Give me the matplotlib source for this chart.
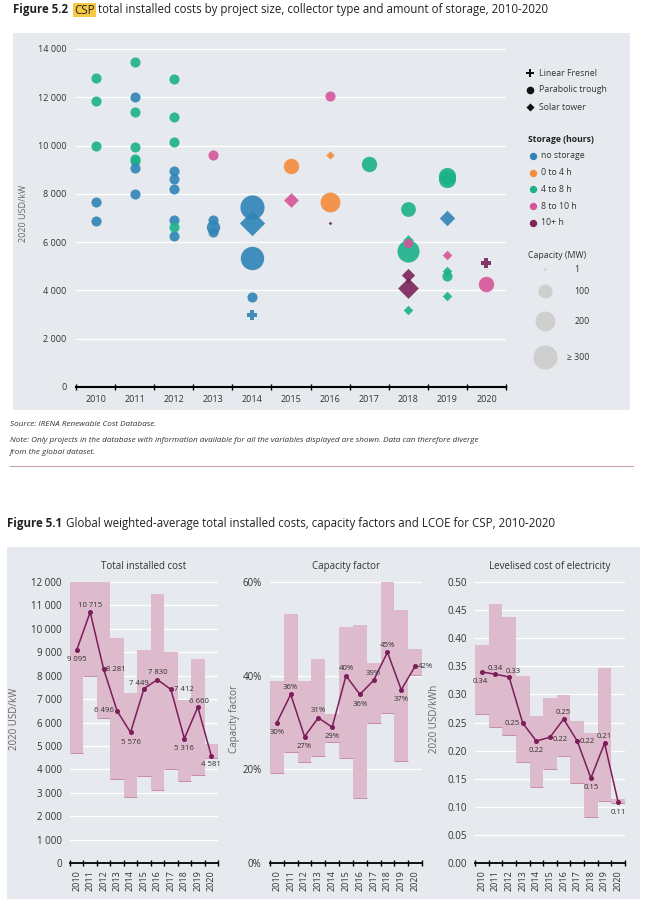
import matplotlib.pyplot as plt
from matplotlib.patches import Rectangle
import numpy as np

plt.rcParams['font.family'] = ['Open Sans', 'DejaVu Sans']

W, H = 646, 899

# ---- Figure 5.2 : project scatter (year, cost, collector, storage class, MW) ----
sc_year = [2010, 2010, 2010, 2010, 2010, 2010,
           2011, 2011, 2011, 2011, 2011, 2011, 2011, 2011,
           2012, 2012, 2012, 2012, 2012, 2012, 2012, 2012, 2012, 2012,
           2013, 2013, 2013, 2013, 2013,
           2014, 2014, 2014, 2014, 2014,
           2015, 2015,
           2016, 2016, 2016, 2016,
           2017,
           2018, 2018, 2018, 2018, 2018, 2018, 2018, 2018,
           2019, 2019, 2019, 2019, 2019, 2019, 2019, 2019,
           2020, 2020]
sc_cost = [12800, 11850, 10000, 7650, 6870, 3730,
           13450, 12000, 11400, 9950, 9450, 9350, 9050, 8000,
           12750, 11200, 10150, 8950, 8600, 8200, 6900, 6250, 6620, 6600,
           9600, 6900, 6620, 6400, 2700,
           7450, 6780, 5350, 3730, 3000,
           9150, 7750,
           12050, 9600, 7650, 6780,
           9250,
           7350, 6100, 5650, 5950, 4650, 4400, 4100, 3200,
           8750, 8600, 7700, 7000, 5480, 4800, 4580, 3750,
           5150, 4280]
sc_kind = ['P', 'P', 'P', 'P', 'P', 'F',
           'P', 'P', 'P', 'P', 'P', 'P', 'P', 'P',
           'P', 'P', 'P', 'P', 'P', 'P', 'P', 'P', 'P', 'F',
           'P', 'P', 'P', 'P', 'F',
           'P', 'T', 'P', 'P', 'F',
           'P', 'T',
           'P', 'T', 'P', 'T',
           'P',
           'P', 'T', 'P', 'P', 'T', 'P', 'T', 'T',
           'P', 'P', 'F', 'T', 'T', 'T', 'P', 'T',
           'F', 'P']
sc_store = [2, 2, 2, 0, 0, 1,
            2, 0, 2, 2, 2, 2, 0, 0,
            2, 2, 2, 0, 0, 0, 0, 0, 2, 1,
            3, 0, 0, 0, 1,
            0, 0, 0, 0, 0,
            1, 3,
            3, 1, 1, 4,
            2,
            2, 2, 2, 3, 4, 4, 4, 2,
            2, 2, 1, 0, 3, 2, 2, 2,
            4, 3]
sc_mw = [50, 50, 50, 50, 50, 1,
         50, 50, 50, 50, 50, 50, 50, 50,
         50, 50, 50, 50, 50, 50, 50, 50, 50, 1,
         50, 50, 90, 50, 1,
         300, 300, 280, 50, 50,
         120, 100,
         50, 30, 200, 3,
         120,
         110, 50, 250, 40, 80, 5, 200, 40,
         150, 150, 1, 110, 40, 40, 50, 40,
         50, 120]

store_names = ['no storage', '0 to 4 h', '4 to 8 h', '8 to 10 h', '10+ h']
store_cols = ['#2f84b7', '#f58b3b', '#1bb189', '#d6559b', '#7a2459']
kind_names = ['Linear Fresnel', 'Parabolic trough', 'Solar tower']
legend_mw = [1, 100, 200, 300]
legend_mw_txt = ['1', '100', '200', '\u2265 300']

# ---- Figure 5.1 : weighted averages and ranges ----
years = list(range(2010, 2021))
tic_mean = [9095, 10715, 8281, 6496, 5576, 7449, 7830, 7412, 5316, 6660, 4581]
tic_lo = [4700, 8000, 6200, 3600, 2800, 3700, 3100, 4000, 3500, 3750, 4500]
tic_hi = [12000, 12000, 12000, 9600, 7250, 9100, 11500, 9000, 6950, 8700, 5100]

cf_mean = [30, 36, 27, 31, 29, 40, 36, 39, 45, 37, 42]
cf_lo = [19.2, 23.7, 21.6, 22.9, 25.9, 22.4, 13.9, 29.9, 32.1, 21.8, 40.2]
cf_hi = [38.9, 53.2, 38.9, 43.6, 31.8, 50.4, 50.8, 42.7, 60.0, 54.0, 45.7]

lc_mean = [0.340, 0.336, 0.331, 0.249, 0.217, 0.224, 0.256, 0.217, 0.151, 0.213, 0.108]
lc_lo = [0.265, 0.242, 0.228, 0.180, 0.135, 0.167, 0.190, 0.142, 0.082, 0.110, 0.106]
lc_hi = [0.388, 0.461, 0.438, 0.333, 0.262, 0.294, 0.299, 0.253, 0.231, 0.347, 0.114]

tic_lab = ['9 095', '10 715', '8 281', '6 496', '5 576', '7 449', '7 830', '7 412', '5 316', '6 660', '4 581']
cf_lab = ['30%', '36%', '27%', '31%', '29%', '40%', '36%', '39%', '45%', '37%', '42%']
lc_lab = ['0.34', '0.34', '0.33', '0.25', '0.22', '0.22', '0.25', '0.22', '0.15', '0.21', '0.11']

# label placement (dx, dy in points, ha)
tic_off = [(0, -7, 'center'), (0, 5, 'center'), (2, 0, 'left'), (-2, 0, 'right'), (0, -7, 'center'),
           (-4, 4, 'center'), (0, 5, 'center'), (2, 0, 'left'), (0, -7, 'center'), (1, 4, 'center'),
           (0, -6, 'center')]
cf_off = [(0, -7, 'center'), (0, 5, 'center'), (0, -7, 'center'), (0, 5, 'center'), (0, -7, 'center'),
          (0, 5, 'center'), (0, -7, 'center'), (0, 5, 'center'), (0, 5, 'center'), (0, -7, 'center'),
          (2, 0, 'left')]
lc_off = [(-1, -7, 'center'), (0, 4, 'center'), (3, 4, 'center'), (-2, 0, 'right'), (0, -7, 'center'),
          (2, -2, 'left'), (0, 5, 'center'), (2, 0, 'left'), (0, -7, 'center'), (0, 5, 'center'),
          (0, -7, 'center')]

PANEL = '#e6e9ed'
TXT = '#333333'
LINE = '#7b1e5a'
BAR = '#ddbacc'


def box(x0, y0, x1, y1):
    return [x0 / W, 1 - y1 / H, (x1 - x0) / W, (y1 - y0) / H]


fig = plt.figure(figsize=(W / 100, H / 100), dpi=100)

# background / overlay in pixel coordinates
bg = fig.add_axes([0, 0, 1, 1], zorder=-5)
bg.set_xlim(0, W)
bg.set_ylim(H, 0)
bg.axis('off')
bg.add_patch(Rectangle((13, 33), 617, 377, color=PANEL, lw=0))
bg.add_patch(Rectangle((7, 547), 633, 352, color=PANEL, lw=0))
bg.plot([10, 633], [466, 466], color='#c9a3ae', lw=0.8)

rend = fig.canvas.get_renderer()


def seq_text(x, y, pieces):
    for s, gap, kw in pieces:
        t = bg.text(x, y, s, va='center', ha='left', fontsize=8.3, color='#222222', **kw)
        x = bg.transData.inverted().transform(t.get_window_extent(rend).get_points())[1][0] + gap


seq_text(13, 10, [('Figure 5.2', 6, dict(fontweight='bold')),
                  ('CSP', 3, dict(bbox=dict(facecolor='#f6c945', edgecolor='none', pad=0.6))),
                  ('total installed costs by project size, collector type and amount of storage, 2010-2020', 0, {})])
seq_text(7, 523, [('Figure 5.1', 4, dict(fontweight='bold')),
                  ('Global weighted-average total installed costs, capacity factors and LCOE for CSP, 2010-2020', 0, {})])

bg.text(10, 424, 'Source: IRENA Renewable Cost Database.', fontsize=5.9, style='italic', color=TXT, va='center')
bg.text(10, 440, 'Note: Only projects in the database with information available for all the variables displayed '
        'are shown. Data can therefore diverge', fontsize=5.9, style='italic', color=TXT, va='center')
bg.text(10, 452, 'from the global dataset.', fontsize=5.9, style='italic', color=TXT, va='center')

# ---- scatter chart ----
ax = fig.add_axes(box(76, 39, 506, 387))
ax.set_facecolor('none')
mk = {'F': 'P', 'P': 'o', 'T': 'D'}
for i in range(len(sc_year)):
    s = 3 + sc_mw[i] * 1.0
    if sc_kind[i] == 'T':
        s *= 0.55
    ax.scatter(sc_year[i], sc_cost[i], s=s, marker=mk[sc_kind[i]], color=store_cols[sc_store[i]],
               alpha=0.9, linewidths=0, zorder=3 + i * 0.01)
ax.set_xlim(2009.5, 2020.5)
ax.set_ylim(0, 14410)
ax.set_yticks(range(0, 14001, 2000))
ax.set_yticklabels([f'{v:,}'.replace(',', ' ') for v in range(0, 14001, 2000)])
ax.set_xticks(years)
ax.set_xticks(np.arange(2009.5, 2021, 1), minor=True)
ax.tick_params(axis='x', which='major', length=0, pad=6, labelsize=6.5, labelcolor=TXT)
ax.tick_params(axis='x', which='minor', length=4, direction='inout', width=1, color='black')
ax.tick_params(axis='y', length=0, pad=7, labelsize=6.5, labelcolor=TXT)
ax.grid(axis='y', color='white', lw=1)
ax.set_axisbelow(True)
for sp in ['top', 'right', 'left']:
    ax.spines[sp].set_visible(False)
ax.spines['bottom'].set_linewidth(1.5)
ax.set_ylabel('2020 USD/kW', fontsize=6.5, color='#666666')
ax.yaxis.set_label_coords(-0.112, 0.5)

# legend drawn in pixel space
for y, m, s, name in zip([73, 90, 107], ['P', 'o', 'D'], [30, 30, 17], kind_names):
    bg.scatter(530, y, marker=m, s=s, color='#111111', linewidths=0)
    bg.text(539, y, name, fontsize=6.3, color=TXT, va='center')
bg.text(528, 140, 'Storage (hours)', fontsize=6.2, fontweight='bold', color='#222222', va='center')
for k, (name, c) in enumerate(zip(store_names, store_cols)):
    y = 156 + k * 16.7
    bg.scatter(533, y, s=28, color=c, linewidths=0)
    bg.text(541, y, name, fontsize=6.3, color=TXT, va='center')
bg.text(528, 256, 'Capacity (MW)', fontsize=6.3, color=TXT, va='center')
for y, mw, t, tx in zip([269, 291, 321, 357], legend_mw, legend_mw_txt, [577, 582, 582, 578]):
    bg.scatter(545, y, s=3 + mw, color='#cfcfcf', linewidths=0)
    bg.text(tx, y, t, fontsize=6.3, color=TXT, va='center', ha='center')


# ---- three small panels ----
def panel(rect, lo, hi, mean, labs, offs, top, ticks, tlabels, title, ylabel, ylab_x):
    a = fig.add_axes(rect)
    a.set_facecolor('none')
    lo = np.array(lo)
    hi = np.array(hi)
    a.bar(years, hi - lo, bottom=lo, width=1.0, color=BAR, linewidth=0, zorder=2)
    a.hlines(lo, np.array(years) - 0.5, np.array(years) + 0.5, color='#c88aa9', lw=0.7, zorder=2)
    a.plot(years, mean, color=LINE, lw=1.1, marker='o', ms=2.6, zorder=4)
    for x, y, t, (dx, dy, ha) in zip(years, mean, labs, offs):
        a.annotate(t, (x, y), xytext=(dx, dy), textcoords='offset points', ha=ha, va='center',
                   fontsize=5.6, color=TXT, zorder=5)
    a.set_xlim(2009.5, 2020.5)
    a.set_ylim(0, top)
    a.set_yticks(ticks)
    a.set_yticklabels(tlabels)
    a.set_xticks(years)
    a.set_xticklabels([str(y) for y in years], rotation=90)
    a.set_xticks(np.arange(2009.5, 2021, 1), minor=True)
    a.tick_params(axis='x', which='major', length=0, pad=5, labelsize=6.5, labelcolor=TXT)
    a.tick_params(axis='x', which='minor', length=4, direction='inout', width=1, color='black')
    a.tick_params(axis='y', length=0, pad=6, labelsize=7, labelcolor=TXT)
    a.grid(axis='y', color='white', lw=1)
    a.set_axisbelow(True)
    for sp in ['top', 'right', 'left']:
        a.spines[sp].set_visible(False)
    a.spines['bottom'].set_linewidth(1.3)
    a.set_title(title, fontsize=7, color=TXT, pad=4)
    a.set_ylabel(ylabel, fontsize=7, color='#666666')
    a.yaxis.set_label_coords(ylab_x, 0.5)
    return a


tk1 = list(range(0, 12001, 1000))
panel(box(70, 575, 218, 863), tic_lo, tic_hi, tic_mean, tic_lab, tic_off, 12300,
      tk1, [f'{v:,}'.replace(',', ' ') for v in tk1], 'Total installed cost', '2020 USD/kW', -0.34)
tk2 = [0, 20, 40, 60]
panel(box(270, 575, 422, 863), cf_lo, cf_hi, cf_mean, cf_lab, cf_off, 61.5,
      tk2, [f'{v}%' for v in tk2], 'Capacity factor', 'Capacity factor', -0.2)
tk3 = [i * 0.05 for i in range(11)]
panel(box(475, 575, 625, 863), lc_lo, lc_hi, lc_mean, lc_lab, lc_off, 0.5125,
      tk3, [f'{v:.2f}' for v in tk3], 'Levelised cost of electricity', '2020 USD/kWh', -0.235)

fig.savefig('out.png', dpi=100)
